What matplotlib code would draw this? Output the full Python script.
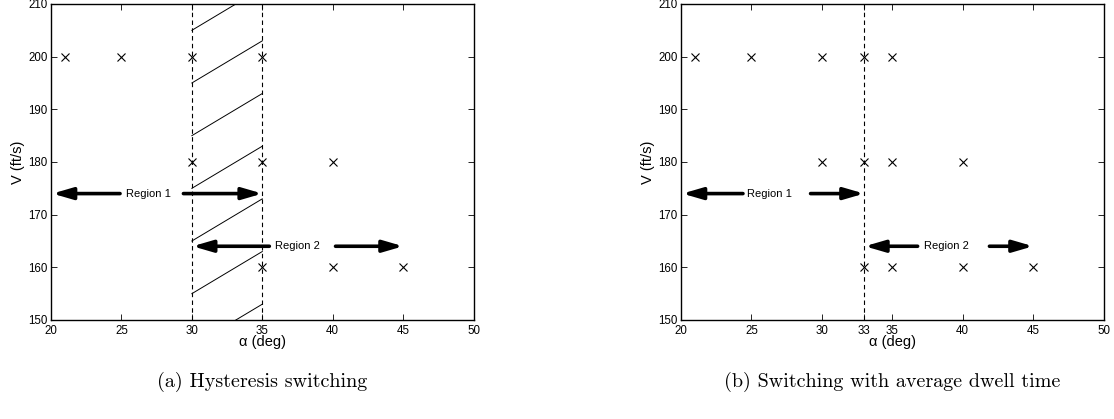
import numpy as np
import matplotlib.pyplot as plt

# grid points (alpha in deg, V in ft/s)
a_alpha = [21, 25, 30, 35, 30, 35, 40, 35, 40, 45]
a_V = [200, 200, 200, 200, 180, 180, 180, 160, 160, 160]
b_alpha = [21, 25, 30, 33, 35, 30, 33, 35, 40, 33, 35, 40, 45]
b_V = [200, 200, 200, 200, 200, 180, 180, 180, 180, 160, 160, 160, 160]

a_switch = [30, 35]
b_switch = [33]

# hatch lines in the hysteresis band
hatch_v0 = [145, 155, 165, 175, 185, 195, 205]
hatch_rise = 8

# region arrows: (tail_x, head_x, y), label (x, y, text)
a_arrows = [(24.9, 20.1, 174), (29.4, 35.0, 174), (35.5, 30.05, 164), (40.2, 45.0, 164)]
a_labels = [(26.9, 174, "Region 1"), (37.5, 164, "Region 2")]
b_arrows = [(24.4, 20.1, 174), (29.2, 33.0, 174), (36.8, 33.05, 164), (41.9, 45.0, 164)]
b_labels = [(26.3, 174, "Region 1"), (38.85, 164, "Region 2")]

xticks_a = [20, 25, 30, 35, 40, 45, 50]
xticks_b = [20, 25, 30, 33, 35, 40, 45, 50]
yticks = [150, 160, 170, 180, 190, 200, 210]

plt.rcParams["font.family"] = ["Liberation Sans", "DejaVu Sans"]
fig = plt.figure(figsize=(11.14, 4.19), dpi=100)
ax1 = fig.add_axes([0.0458, 0.2363, 0.3793, 0.7542])
ax2 = fig.add_axes([0.6113, 0.2363, 0.3793, 0.7542])


def setup(ax, xticks):
    ax.set_xlim(20, 50)
    ax.set_ylim(150, 210)
    ax.set_xticks(xticks)
    ax.set_yticks(yticks)
    ax.tick_params(direction="in", top=True, right=True, length=4, width=0.6,
                   labelsize=8.3)
    ax.tick_params(axis="x", pad=3.5)
    ax.tick_params(axis="y", pad=2.5)
    for s in ax.spines.values():
        s.set_linewidth(1.0)
    ax.set_xlabel(r"α (deg)", fontsize=10.5, labelpad=-1)
    ax.set_ylabel("V (ft/s)", fontsize=10.5, labelpad=2)


def arrows(ax, arr, labels):
    for tail, head, y in arr:
        ax.annotate("", xy=(head, y), xytext=(tail, y),
                    arrowprops=dict(arrowstyle="-|>,head_length=1.2,head_width=0.35",
                                    lw=2.6, color="k", shrinkA=0, shrinkB=0,
                                    mutation_scale=10))
    for x, y, t in labels:
        ax.text(x, y, t, ha="center", va="center", fontsize=8)


setup(ax1, xticks_a)
for xs in a_switch:
    ax1.axvline(xs, color="k", ls=(0, (4, 3)), lw=0.8)
hx = np.array([a_switch[0], a_switch[1]])
for v0 in hatch_v0:
    ax1.plot(hx, [v0, v0 + hatch_rise], color="k", lw=0.7)
ax1.plot(a_alpha, a_V, "x", color="k", ms=6, mew=0.8)
arrows(ax1, a_arrows, a_labels)

setup(ax2, xticks_b)
for xs in b_switch:
    ax2.axvline(xs, color="k", ls=(0, (4, 3)), lw=0.8)
ax2.plot(b_alpha, b_V, "x", color="k", ms=6, mew=0.8)
arrows(ax2, b_arrows, b_labels)

fig.text(0.2354, 0.088, "(a) Hysteresis switching", ha="center", va="center",
         fontsize=14.5, family="cmr10")
fig.text(0.8010, 0.088, "(b) Switching with average dwell time", ha="center",
         va="center", fontsize=14.5, family="cmr10")

fig.savefig("out.png", dpi=100)
